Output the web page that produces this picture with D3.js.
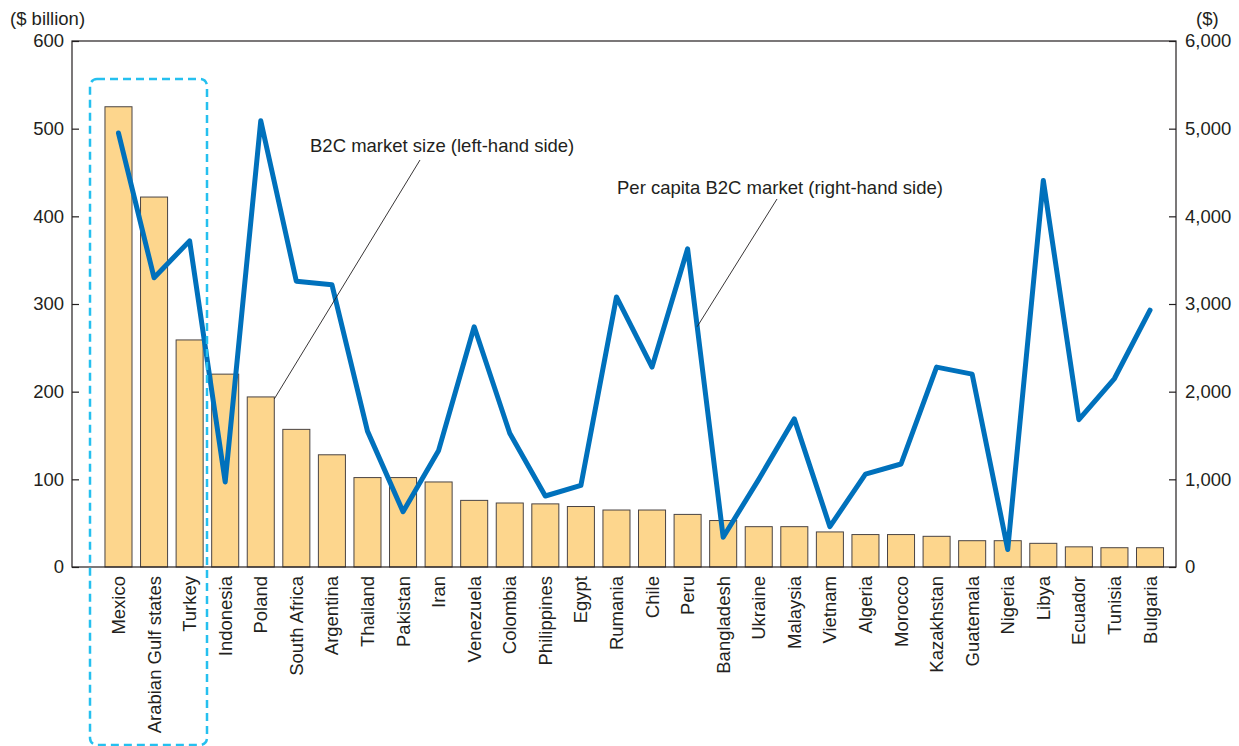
<!DOCTYPE html>
<html><head><meta charset="utf-8">
<script src="https://cdn.jsdelivr.net/npm/d3@7"></script>
<style>
html,body{margin:0;padding:0;background:#fff;}
svg text{font-family:"Liberation Sans",Arial,Helvetica,sans-serif;fill:#231f20;}
</style></head>
<body>
<svg id="chart" width="1239" height="746"></svg>
<script>
const countries = ["Mexico","Arabian Gulf states","Turkey","Indonesia","Poland","South Africa","Argentina","Thailand","Pakistan","Iran","Venezuela","Colombia","Philippines","Egypt","Rumania","Chile","Peru","Bangladesh","Ukraine","Malaysia","Vietnam","Algeria","Morocco","Kazakhstan","Guatemala","Nigeria","Libya","Ecuador","Tunisia","Bulgaria"];
const marketSize = [525,422,259,220,194,157,128,102,102,97,76,73,72,69,65,65,60,53,46,46,40,37,37,35,30,30,27,23,22,22];
const perCapita = [4950,3300,3720,970,5090,3260,3220,1550,630,1330,2740,1525,810,930,3080,2280,3630,340,1000,1690,460,1060,1175,2280,2200,200,4410,1680,2150,2930];
const leftTicks = [0,100,200,300,400,500,600];
const rightTicks = [0,1000,2000,3000,4000,5000,6000];
const leftUnit = "($ billion)";
const rightUnit = "($)";
const annBars = "B2C market size (left-hand side)";
const annLine = "Per capita B2C market (right-hand side)";

const FS = 18.5;
const svg = d3.select("#chart");
const L = 72, R = 1176, T = 41, B = 567;

const x = d3.scaleBand().domain(countries).range([100.7, 1167.8]).paddingInner(0.24).paddingOuter(0.12);
const yL = d3.scaleLinear().domain([0,600]).range([B,T]);
const yR = d3.scaleLinear().domain([0,6000]).range([B,T]);

// bars
svg.append("g").selectAll("rect").data(countries).join("rect")
  .attr("x", d => x(d)).attr("width", x.bandwidth())
  .attr("y", (d,i) => yL(marketSize[i])).attr("height", (d,i) => B - yL(marketSize[i]))
  .attr("fill", "#fdd68d").attr("stroke", "#4a4444").attr("stroke-width", 1);

// frame
svg.append("rect").attr("x", L).attr("y", T).attr("width", R-L).attr("height", B-T)
  .attr("fill","none").attr("stroke","#231f20").attr("stroke-width",1.2);

// left axis
const axL = svg.append("g").attr("transform",`translate(${L},0)`)
  .call(d3.axisLeft(yL).tickValues(leftTicks).tickSize(-7).tickPadding(8).tickFormat(d3.format("d")));
axL.select(".domain").remove();
axL.selectAll("line").attr("stroke","#231f20").attr("stroke-width",1.2);
axL.selectAll("text").attr("font-size",FS).style("font-family",'"Liberation Sans",Arial,sans-serif').attr("fill","#231f20");

// right axis
const axR = svg.append("g").attr("transform",`translate(${R},0)`)
  .call(d3.axisRight(yR).tickValues(rightTicks).tickSize(-7).tickPadding(9).tickFormat(d3.format(",")));
axR.select(".domain").remove();
axR.selectAll("line").attr("stroke","#231f20").attr("stroke-width",1.2);
axR.selectAll("text").attr("font-size",FS).style("font-family",'"Liberation Sans",Arial,sans-serif').attr("fill","#231f20");

// units
svg.append("text").attr("x",10).attr("y",25).attr("font-size",FS).text(leftUnit);
svg.append("text").attr("x",1196).attr("y",25).attr("font-size",FS).text(rightUnit);

// category labels
svg.append("g").selectAll("text").data(countries).join("text")
  .attr("transform", d => `translate(${x(d)+x.bandwidth()/2+6.5},576) rotate(-90)`)
  .attr("text-anchor","end").attr("font-size",FS).text(d => d);

// line
const line = d3.line().x((d,i) => x(countries[i]) + x.bandwidth()/2).y(d => yR(d));
svg.append("path").datum(perCapita).attr("d", line)
  .attr("fill","none").attr("stroke","#0071bc").attr("stroke-width",5)
  .attr("stroke-linejoin","round").attr("stroke-linecap","round");

// dashed highlight box
svg.append("rect").attr("x",90).attr("y",79).attr("width",117).attr("height",666).attr("rx",7)
  .attr("fill","none").attr("stroke","#25c0ef").attr("stroke-width",2.5).attr("stroke-dasharray","8,5");

// annotations
const pI = countries.indexOf("Poland");
svg.append("line").attr("x1",420).attr("y1",160)
  .attr("x2", x("Poland")+x.bandwidth()).attr("y2", yL(marketSize[pI])+2)
  .attr("stroke","#231f20").attr("stroke-width",0.9);
svg.append("text").attr("x",310).attr("y",152).attr("font-size",FS).text(annBars);

const i1 = countries.indexOf("Peru"), i2 = i1+1;
const xa = x(countries[i1])+x.bandwidth()/2, xb = x(countries[i2])+x.bandwidth()/2;
const ya = yR(perCapita[i1]), yb = yR(perCapita[i2]);
const t = 0.27;
svg.append("line").attr("x1",777).attr("y1",199)
  .attr("x2", xa + (xb-xa)*t).attr("y2", ya + (yb-ya)*t)
  .attr("stroke","#231f20").attr("stroke-width",0.9);
svg.append("text").attr("x",617).attr("y",194).attr("font-size",FS).text(annLine);
</script>
</body></html>
